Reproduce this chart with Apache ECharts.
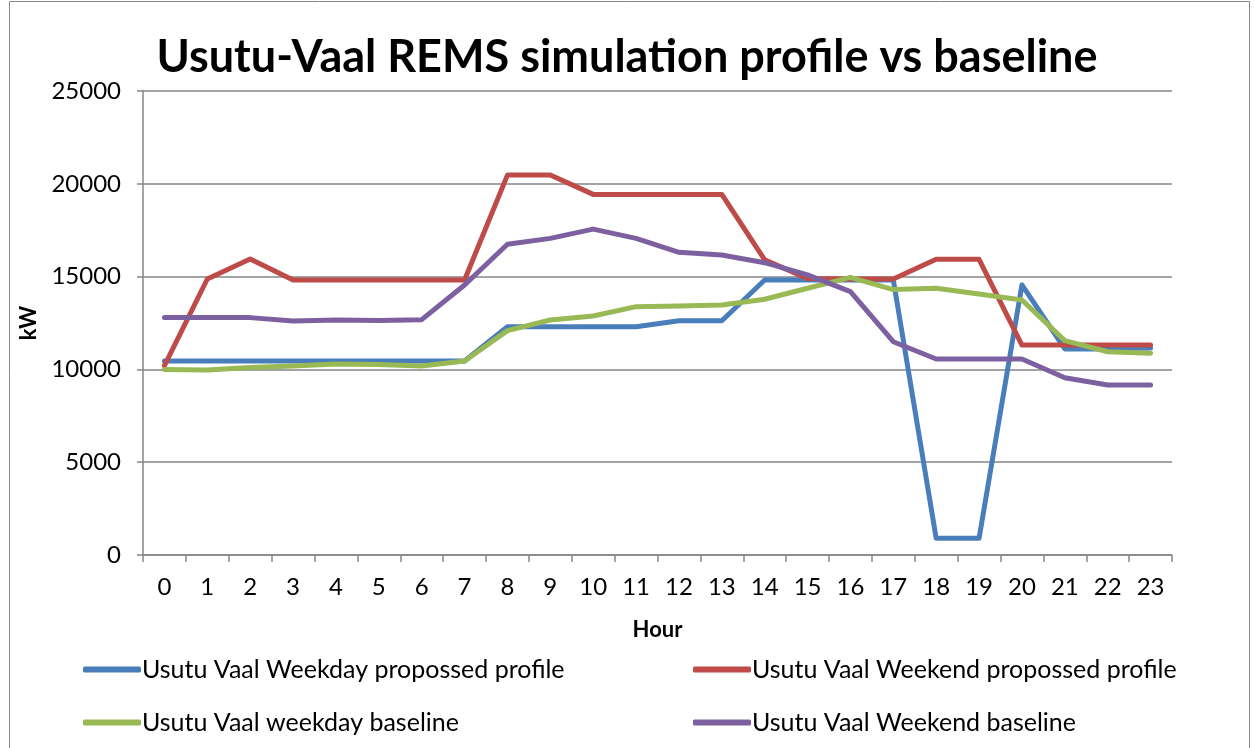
<!DOCTYPE html>
<html>
<head>
<meta charset="utf-8">
<script src="https://cdn.jsdelivr.net/npm/echarts@6/dist/echarts.min.js"></script>
<style>
html,body{margin:0;padding:0;background:#fff;}
#c{width:1254px;height:748px;}
</style>
</head>
<body>
<div id="c"></div>
<script>
var hours = ['0','1','2','3','4','5','6','7','8','9','10','11','12','13','14','15','16','17','18','19','20','21','22','23'];
var weekdayProposed = [10450,10450,10450,10450,10450,10450,10450,10450,12300,12300,12300,12300,12620,12620,14820,14820,14820,14820,900,900,14550,11100,11100,11150];
var weekendProposed = [10200,14870,15950,14820,14820,14820,14820,14820,20470,20470,19430,19430,19430,19430,15900,14900,14870,14870,15930,15930,11310,11310,11310,11310];
var weekdayBaseline = [10000,9970,10100,10180,10290,10260,10180,10450,12090,12660,12880,13380,13410,13470,13780,14370,14960,14300,14370,14060,13740,11550,10950,10870];
var weekendBaseline = [12790,12790,12790,12610,12660,12630,12680,14550,16740,17060,17560,17060,16310,16160,15750,15090,14190,11490,10560,10560,10560,9550,9160,9160];

var names = ['Usutu Vaal Weekday propossed profile','Usutu Vaal Weekend propossed profile','Usutu Vaal weekday baseline','Usutu Vaal Weekend baseline'];
var colors = ['#4a7ebb','#be4b48','#98b954','#7d60a0'];
var datas = [weekdayProposed, weekendProposed, weekdayBaseline, weekendBaseline];
var font = 'Lato, "Open Sans", sans-serif';

var legendPos = [[78,652],[688,652],[78,705],[688,705]];
var legends = names.map(function(n,i){
  return {
    data:[n], left:legendPos[i][0], top:legendPos[i][1],
    icon:'roundRect', itemWidth:58, itemHeight:6, itemGap:0,
    textStyle:{fontFamily:font, fontSize:25, color:'#000', padding:[0,0,0,-4]},
    selectedMode:false
  };
});

var chart = echarts.init(document.getElementById('c'), null, {renderer:'canvas'});
chart.setOption({
  animation:false,
  backgroundColor:'#fff',
  title:{
    text:'Usutu-Vaal REMS simulation profile vs baseline',
    left:'center', top:30,
    textStyle:{fontFamily:font, fontWeight:'bold', fontSize:45, color:'#000'}
  },
  legend: legends,
  grid:{left:143, right:82, top:91, bottom:193, containLabel:false},
  xAxis:{
    type:'category', data:hours, boundaryGap:true,
    name:'Hour', nameLocation:'middle', nameGap:64,
    nameTextStyle:{fontFamily:font, fontWeight:'bold', fontSize:22, color:'#000'},
    axisLine:{lineStyle:{color:'#868686', width:1.5}},
    axisTick:{show:true, length:7, alignWithLabel:false, lineStyle:{color:'#868686', width:1.5}},
    axisLabel:{fontFamily:font, fontSize:24, color:'#000', margin:20, interval:0}
  },
  yAxis:{
    type:'value', min:0, max:25000, interval:5000,
    name:'kW', nameLocation:'middle', nameGap:103, nameRotate:90,
    nameTextStyle:{fontFamily:font, fontWeight:'bold', fontSize:22, color:'#000'},
    axisLine:{show:true, lineStyle:{color:'#868686', width:1.5}},
    axisTick:{show:true, length:6, lineStyle:{color:'#868686', width:1.5}},
    splitLine:{show:true, lineStyle:{color:'#868686', width:1.5}},
    axisLabel:{fontFamily:font, fontSize:24, color:'#000', margin:22, formatter:function(v){return String(v);}}
  },
  series: datas.map(function(d,i){
    return {
      name:names[i], type:'line', data:d, symbol:'none',
      lineStyle:{width:5, color:colors[i], cap:'round', join:'round'},
      itemStyle:{color:colors[i]}
    };
  }),
  graphic:[{
    type:'rect', shape:{x:9.5, y:1.5, width:1240, height:760},
    style:{fill:'none', stroke:'#868686', lineWidth:1}, silent:true
  }]
});
</script>
</body>
</html>
